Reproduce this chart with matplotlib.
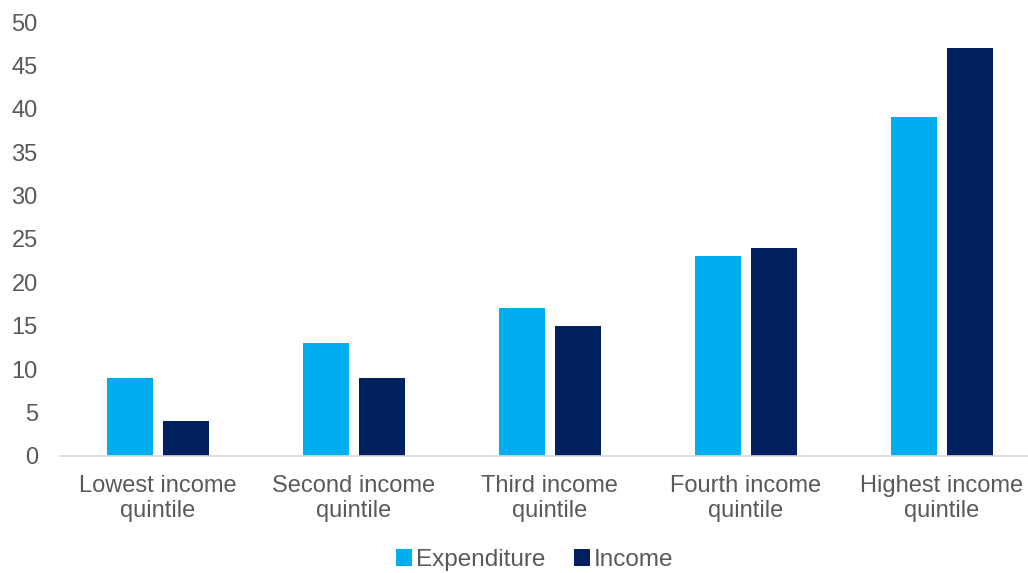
import matplotlib.pyplot as plt
import numpy as np

categories = ['Lowest income\nquintile', 'Second income\nquintile', 'Third income\nquintile',
              'Fourth income\nquintile', 'Highest income\nquintile']
expenditure = [9, 13, 17, 23, 39]
income = [4, 9, 15, 24, 47]

plt.rcParams['font.family'] = ['Liberation Sans', 'DejaVu Sans']
grey = '#595959'

fig = plt.figure(figsize=(10.28, 5.73), dpi=100)
ax = fig.add_axes([0.0584, 0.2042, 0.953, 0.7574])

x = np.arange(len(categories))
w = 0.235
ax.bar(x - w / 2 - 0.0255, expenditure, width=w, color='#00AEEF', label='Expenditure')
ax.bar(x + w / 2 + 0.0255, income, width=w, color='#002060', label='Income')

ax.set_xlim(-0.5, len(categories) - 0.5)
ax.set_ylim(0, 50)
ax.set_yticks(range(0, 51, 5))
ax.set_xticks(x)
ax.set_xticklabels(categories, fontsize=17, color=grey, linespacing=1.15)
ax.tick_params(axis='y', labelsize=17, labelcolor=grey, length=0, pad=16)
ax.tick_params(axis='x', length=0, pad=14)

for s in ['top', 'right', 'left']:
    ax.spines[s].set_visible(False)
ax.spines['bottom'].set_color('#D9D9D9')
ax.spines['bottom'].set_linewidth(1.2)

leg = fig.legend(loc='lower center', bbox_to_anchor=(0.52, -0.022), ncol=2, frameon=False,
                 fontsize=17.5, handlelength=0.65, handleheight=0.65, handletextpad=0.15,
                 columnspacing=1.2, borderpad=0.1)
for t in leg.get_texts():
    t.set_color(grey)

plt.savefig('out.png', dpi=100)
